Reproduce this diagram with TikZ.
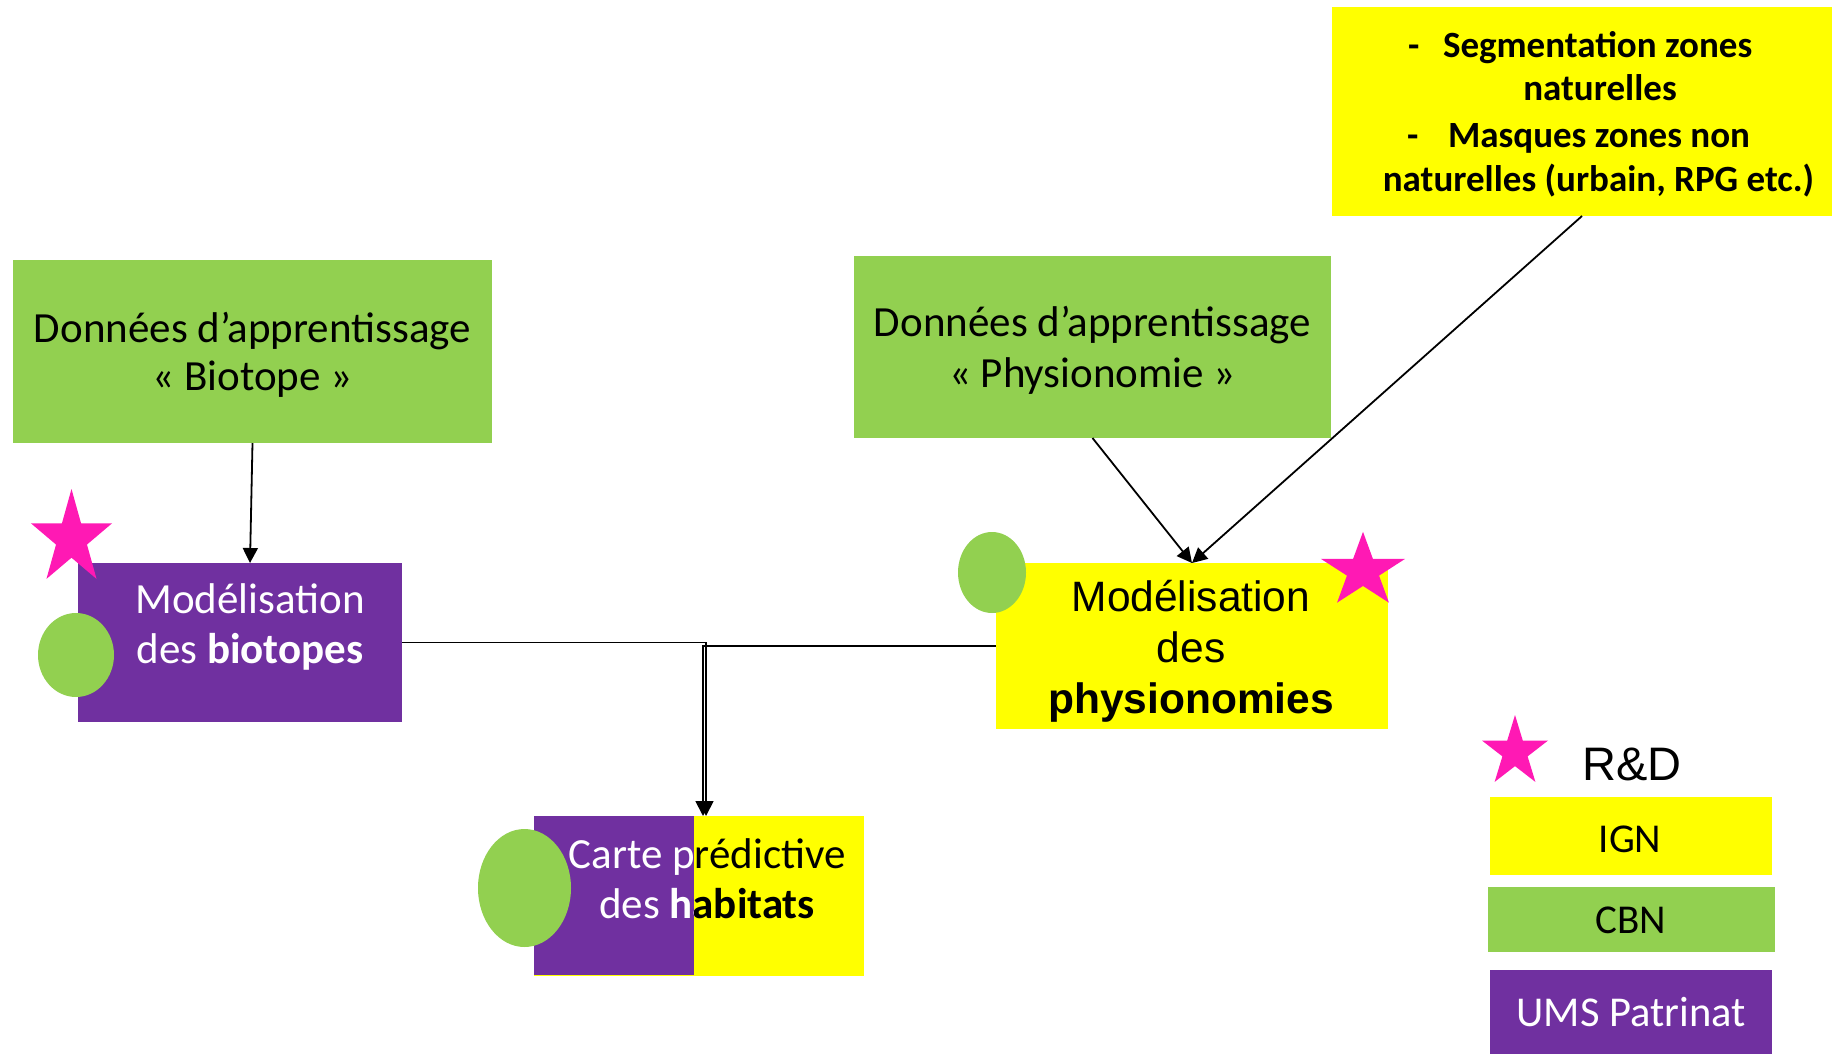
\documentclass[tikz,border=0pt]{standalone}
\usepackage{fontspec}
\setmainfont{Carlito}
\newfontfamily\arialf{Liberation Sans}
\usetikzlibrary{arrows.meta,shapes.geometric}
\definecolor{cgreen}{HTML}{92D050}
\definecolor{cyellow}{HTML}{FFFF00}
\definecolor{cpurple}{HTML}{7030A0}
\definecolor{cpink}{HTML}{FF19B4}
\tikzset{
  box/.style={rectangle, inner sep=0pt, outer sep=0pt, draw=none},
  blob/.style={ellipse, inner sep=0pt, outer sep=0pt, fill=cgreen, draw=none},
  txt/.style={align=center, inner sep=0pt, outer sep=0pt, anchor=base},
  conn/.style={draw=black, line width=1.8pt, -{Triangle[length=15pt,width=15pt]}},
  pics/rdstar/.style 2 args={code={
    \fill[cpink, xscale=#1, yscale=#2] (270:1) -- (306:0.382) -- (342:1) -- (18:0.382) -- (54:1) -- (90:0.382) -- (126:1) -- (162:0.382) -- (198:1) -- (234:0.382) -- cycle;
  }}
}
\begin{document}
\begin{tikzpicture}[x=1pt, y=-1pt]
\useasboundingbox (0,0) rectangle (1840,1053);

% boxes
\node[box, fill=cgreen, minimum width=479pt, minimum height=183pt] (biodata) at (252.5,351.5) {};
\node[box, fill=cgreen, minimum width=477pt, minimum height=182pt] (physdata) at (1092.5,347) {};
\node[box, fill=cyellow, minimum width=500pt, minimum height=209pt] (topbox) at (1582,111.5) {};
\node[box, fill=cpurple, minimum width=324pt, minimum height=159pt] (biomod) at (240,642.5) {};
\node[box, fill=cyellow, minimum width=392pt, minimum height=166pt] (physmod) at (1192,646) {};
\node[box, fill=cyellow, minimum width=330pt, minimum height=160pt] (carte) at (699,896) {};
\node[box, fill=cpurple, minimum width=160pt, minimum height=159pt] (cartep) at (614,895.5) {};

% legend boxes
\node[box, fill=cyellow, minimum width=282pt, minimum height=78pt] (ign) at (1631,836) {};
\node[box, fill=cgreen, minimum width=287pt, minimum height=65pt] (cbn) at (1631.5,919.5) {};
\node[box, fill=cpurple, minimum width=282pt, minimum height=84pt] (ums) at (1631,1012) {};

% green blobs
\node[blob, minimum width=76pt, minimum height=84pt] (bioblob) at (76,655) {};
\node[blob, minimum width=68pt, minimum height=81pt] (physblob) at (992,572.5) {};
\node[blob, minimum width=93pt, minimum height=118pt] (carteblob) at (524.5,888) {};

% stars
\pic at (71.5,538.7) {rdstar={42.6}{49.7}};
\pic at (1363,571) {rdstar={44.2}{39.2}};
\pic at (1515,752) {rdstar={34.7}{37}};

% texts (base anchor = baseline of last line)
\node[txt, font=\fontsize{43}{48}\selectfont] (biodatat) at (252.5,390) {Données d’apprentissage\\« Biotope »};
\node[txt, font=\fontsize{43}{51}\selectfont] (physdatat) at (1092.5,387) {Données d’apprentissage\\« Physionomie »};
\node[txt, text=white, font=\fontsize{43}{50}\selectfont] (biomodt) at (250,663) {Modélisation\\des \textbf{biotopes}};
\node[txt, font=\arialf\fontsize{42.5}{51}\selectfont] (physmodt) at (1191,713) {Modélisation\\des\\\textbf{physionomies}};

\begin{scope}
\clip (400,800) rectangle (694,990);
\node[txt, text=white, font=\fontsize{43}{50}\selectfont] (cartew) at (707,918) {Carte prédictive\\des \textbf{habitats}};
\end{scope}
\begin{scope}
\clip (694,800) rectangle (900,990);
\node[txt, text=black, font=\fontsize{43}{50}\selectfont] (carteb) at (707,918) {Carte prédictive\\des \textbf{habitats}};
\end{scope}

\begin{scope}[every node/.style={inner sep=0pt, outer sep=0pt, font=\bfseries\fontsize{37}{44}\selectfont}]
\node[anchor=base west] (tl1d) at (1408,57) {-};
\node[anchor=base west] (tl1) at (1443,57) {Segmentation zones};
\node[anchor=base] (tl2) at (1600,100) {naturelles};
\node[anchor=base west] (tl3d) at (1407,147) {-};
\node[anchor=base west] (tl3) at (1448,147) {Masques zones non};
\node[anchor=base] (tl4) at (1598.5,191) {naturelles (urbain, RPG etc.)};
\end{scope}

\node[anchor=base west, inner sep=0pt, font=\arialf\fontsize{47}{56}\selectfont] (rd) at (1582,780) {R\&D};
\node[txt, font=\fontsize{41}{48}\selectfont] (ignt) at (1630,852) {IGN};
\node[txt, font=\fontsize{41}{48}\selectfont] (cbnt) at (1631,933) {CBN};
\node[txt, text=white, font=\fontsize{42.5}{48}\selectfont] (umst) at (1631,1026) {UMS Patrinat};

% connectors
\draw[conn] (biodata.south) -- ([xshift=10pt]biomod.north);
\draw[conn] (physdata.south) -- (physmod.north);
\draw[conn] (topbox.south) -- (physmod.north);
\draw[conn] (biomod.east) -| ([xshift=7pt]carte.north);
\draw[conn] (physmod.west) -| ([xshift=4pt]carte.north);
\end{tikzpicture}
\end{document}
